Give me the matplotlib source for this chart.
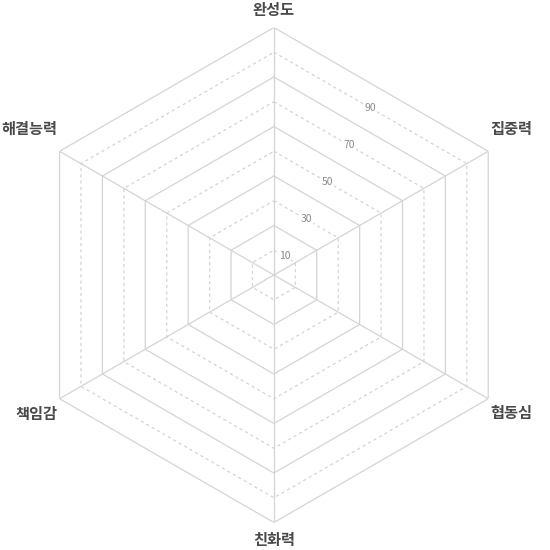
import numpy as np
import matplotlib
matplotlib.use('Agg')
import matplotlib.pyplot as plt

plt.rcParams['font.family'] = ['Noto Sans CJK KR', 'DejaVu Sans']

# 항목 (위에서 시계 방향)
categories = ['완성도', '집중력', '협동심', '친화력', '책임감', '해결능력']
solid_levels = [20, 40, 60, 80, 100]
dashed_levels = [10, 30, 50, 70, 90]
tick_labels = ['10', '30', '50', '70', '90']

# 라벨 위치 조정 (픽셀 단위: dx, dy, 정렬)
label_offsets = [(0, 18, 'center'), (2, 22, 'left'), (2, -14, 'left'),
                 (0, -18, 'center'), (-2, -15, 'right'), (-2, 22, 'right')]

grid_color = '#d4d4d4'

fig = plt.figure(figsize=(5.5, 5.5), dpi=100)
ax = fig.add_axes([0.048, 0.05, 0.9, 0.9], projection='polar')
ax.set_theta_zero_location('N')
ax.set_theta_direction(-1)
ax.set_ylim(0, 100)
ax.axis('off')

n = len(categories)
angles = np.arange(n) * 2 * np.pi / n
closed = np.append(angles, angles[0])

# 육각형 격자
for r in solid_levels:
    ax.plot(closed, [r] * (n + 1), color=grid_color, lw=0.9, zorder=1)
for r in dashed_levels:
    ax.plot(closed, [r] * (n + 1), color=grid_color, lw=0.9,
            linestyle=(0, (2.5, 2.5)), zorder=1)

# 축선
for a in angles:
    ax.plot([a, a], [0, 100], color=grid_color, lw=0.9, zorder=1)

# 눈금 라벨 (첫 두 축 사이 변의 중간)
mid = np.pi / n
for r, t in zip(dashed_levels, tick_labels):
    ax.text(mid, r * np.cos(mid), t, fontsize=7.5, color='#8a8a8a',
            ha='center', va='center', zorder=3,
            bbox=dict(boxstyle='square,pad=0.1', fc='white', ec='none'))

# 항목 라벨
for a, lab, (dx, dy, ha) in zip(angles, categories, label_offsets):
    ax.annotate(lab, xy=(a, 100), xytext=(dx * 0.72, dy * 0.72),
                textcoords='offset points', ha=ha, va='center',
                fontsize=11, fontweight='bold', color='#4a4a4a',
                annotation_clip=False)

fig.savefig('out.png', dpi=100, facecolor='white')
